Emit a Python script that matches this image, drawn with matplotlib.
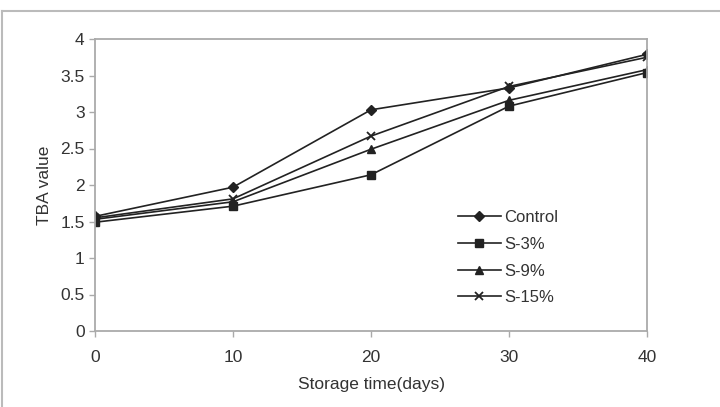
import matplotlib.pyplot as plt
from matplotlib.lines import Line2D

days = [0, 10, 20, 30, 40]
control = [1.57, 1.97, 3.03, 3.33, 3.79]
s3 = [1.49, 1.71, 2.14, 3.08, 3.54]
s9 = [1.53, 1.77, 2.49, 3.16, 3.58]
s15 = [1.55, 1.81, 2.67, 3.35, 3.75]
yticks = [0, 0.5, 1, 1.5, 2, 2.5, 3, 3.5, 4]
ylabels = ['0', '0.5', '1', '1.5', '2', '2.5', '3', '3.5', '4']

plt.rcParams['font.family'] = ['Liberation Sans', 'DejaVu Sans']
txt = '#333333'

fig = plt.figure(figsize=(7.2, 4.07), dpi=100)
# frame lines of the picture (top and left only)
top = 1 - 11/407
left = 2/720
fig.lines.append(Line2D([left, 1], [top, top], transform=fig.transFigure, color='#bbbbbb', lw=1.5))
fig.lines.append(Line2D([left, left], [0, top], transform=fig.transFigure, color='#bbbbbb', lw=1.5))

ax = fig.add_axes([95/720, 1 - 331/407, (647 - 95)/720, (331 - 39)/407])
lc = '#222222'
ax.plot(days, control, color=lc, lw=1.2, marker='D', ms=5, label='Control')
ax.plot(days, s3, color=lc, lw=1.2, marker='s', ms=6, label='S-3%')
ax.plot(days, s9, color=lc, lw=1.2, marker='^', ms=6, label='S-9%')
ax.plot(days, s15, color=lc, lw=1.2, marker='x', ms=6, mew=1.3, label='S-15%')

ax.set_xlim(0, 40)
ax.set_ylim(0, 4)
ax.set_xticks(days)
ax.set_yticks(yticks)
ax.set_yticklabels(ylabels)
for s in ax.spines.values():
    s.set_color('#aaaaaa')
    s.set_linewidth(1.3)
ax.tick_params(axis='both', colors='#aaaaaa', labelcolor=txt, labelsize=12.5, length=4, width=1)
ax.tick_params(axis='x', pad=10)
ax.set_xlabel('Storage time(days)', fontsize=12.5, color=txt, labelpad=8)
ax.set_ylabel('TBA value', fontsize=12.5, color=txt, labelpad=6)

leg = ax.legend(loc='upper left', bbox_to_anchor=(0.63, 0.465), frameon=False,
                fontsize=12, handlelength=2.6, labelspacing=0.7, handletextpad=0.2)
for t in leg.get_texts():
    t.set_color(txt)

fig.savefig('out.png', dpi=100)
